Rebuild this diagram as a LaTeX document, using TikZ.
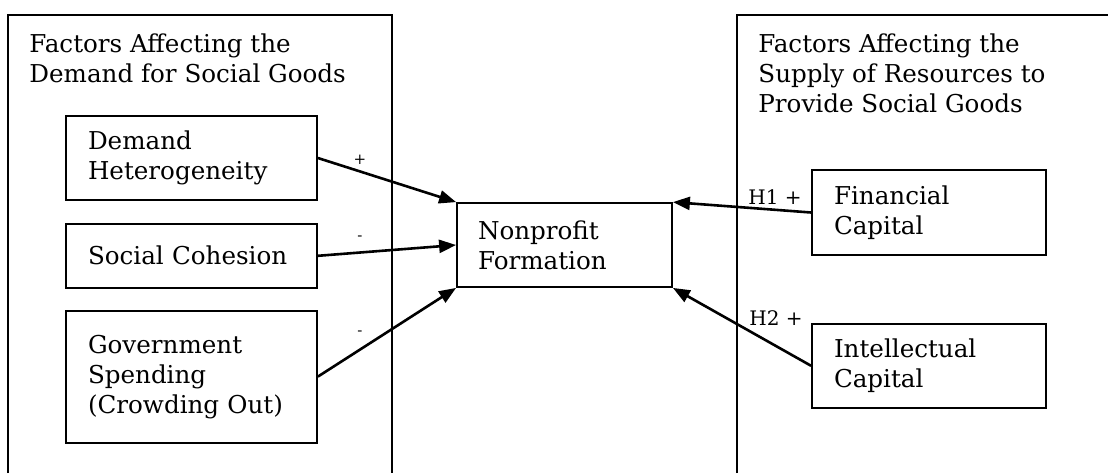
\documentclass[tikz,border=0pt]{standalone}
\usepackage{fontspec}
\setmainfont{DejaVu Serif}
\usetikzlibrary{positioning,arrows.meta}

\tikzset{
  txt/.style={font=\fontsize{12.3}{15}\selectfont},
  factor/.style={txt, draw, line width=0.9pt, align=left, inner xsep=11pt,
    minimum width=125.5pt, text width=103.5pt},
  supply/.style={factor, minimum width=117pt, text width=95pt, minimum height=42.5pt},
  head/.style={txt, align=left, inner sep=0pt, anchor=north west},
  sign/.style={font=\fontsize{7.5}{8}\selectfont, inner sep=0pt},
  hyp/.style={font=\fontsize{10}{11}\selectfont, inner sep=0pt},
  frame/.style={line width=1pt},
  link/.style={-{Triangle[length=8.5pt,width=6.5pt]}, line width=1.3pt}
}

\begin{document}
\begin{tikzpicture}[x=0.5pt, y=-0.5pt]
		\useasboundingbox (0,0) rectangle (1108,473);
		% Frames and headings
		\draw[frame] (8,473) -- (8,15) -- (392,15) -- (392,473);
		\draw[frame] (737,473) -- (737,15) -- (1108,15);
		\node[head]	(demhead)	at (29,33.3)	{Factors Affecting the\\Demand for Social Goods};
		\node[head]	(suphead)	at (758,33.3)	{Factors Affecting the\\Supply of Resources to\\Provide Social Goods};
		% Define nodes
		\node[factor, minimum height=42pt]	(het)	at (191.5,158)	{Demand\\Heterogeneity};
		\node[factor, minimum height=32pt, below = 11pt of het]	(coh)	{Social Cohesion};
		\node[factor, minimum height=66pt, below = 10.5pt of coh]	(gov)	{Government\\Spending\\(Crowding Out)};
		\node[factor, minimum width=107.5pt, text width=86.5pt, inner xsep=10.5pt, minimum height=42pt]	(npf)	at (564.5,245)	{Nonprofit\\Formation};
		\node[supply]	(fin)	at (929,212.5)	{Financial\\Capital};
		\node[supply, minimum height=42pt, below = 33.5pt of fin]	(intel)	{Intellectual\\Capital};
		% Edges
		\draw[link] (het.east) -- (npf.north west);
		\draw[link] (coh.east) -- (npf.west);
		\draw[link] (gov.east) -- (npf.south west);
		\draw[link] (fin.west) -- (npf.north east);
		\draw[link] (intel.west) -- (npf.south east);
		% Signs
		\node[sign]	(shet)	at (360,160)	{+};
		\node[sign]	(scoh)	at (360,238)	{-};
		\node[sign]	(sgov)	at (360,333)	{-};
		\node[hyp]	(hone)	at (775,197)	{H1 +};
		\node[hyp]	(htwo)	at (776,318)	{H2 +};
\end{tikzpicture}
\end{document}
